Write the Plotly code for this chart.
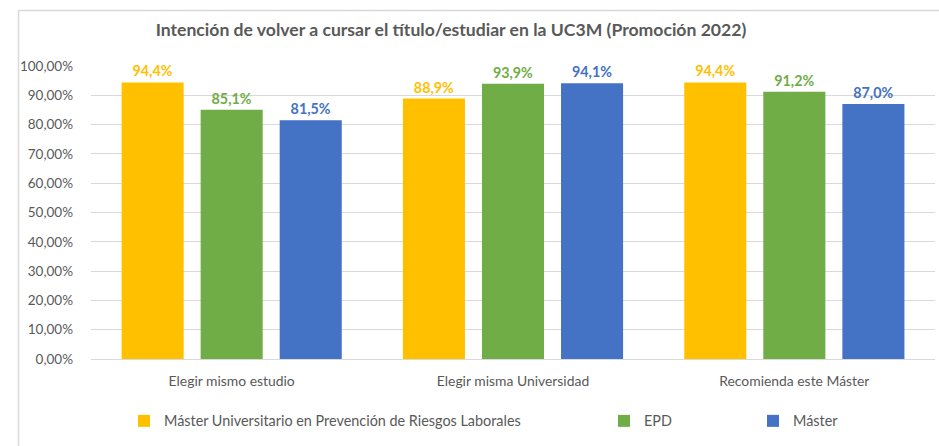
import plotly.graph_objects as go

categories = ["Elegir mismo estudio", "Elegir misma Universidad", "Recomienda este Máster"]
series_names = ["Máster Universitario en Prevención de Riesgos Laborales", "EPD", "Máster"]
vals_mu = [0.944, 0.889, 0.944]
vals_epd = [0.851, 0.939, 0.912]
vals_master = [0.815, 0.941, 0.870]
labels_mu = ["94,4%", "88,9%", "94,4%"]
labels_epd = ["85,1%", "93,9%", "91,2%"]
labels_master = ["81,5%", "94,1%", "87,0%"]
colors = ["#FFC000", "#70AD47", "#4472C4"]
tick_vals = [i / 10 for i in range(11)]
tick_text = [f"{i*10},00%" for i in range(11)]

W, H = 939, 446
ml, mr, mt, mb = 91, 4, 66, 87
pw = W - ml - mr
ph = H - mt - mb

FONT = "Lato, 'Open Sans', sans-serif"
GREY = "#595959"

fig = go.Figure()
legend_ids = ["legend", "legend2", "legend3"]
for name, vals, labs, col, lg in zip(series_names, [vals_mu, vals_epd, vals_master],
                                     [labels_mu, labels_epd, labels_master], colors, legend_ids):
    fig.add_trace(go.Bar(
        x=categories, y=vals, name=name, marker=dict(color=col, line=dict(width=0)),
        text=labs, textposition="outside", cliponaxis=False,
        textfont=dict(color=col, size=14.3, family=FONT, weight="bold"),
        legend=lg, hoverinfo="x+y",
    ))

def px2x(px):
    return (px - ml) / pw

def py2y(py):
    return (H - mb - py) / ph

legend_common = dict(orientation="h", yref="container", y=(H - 421) / H, yanchor="middle",
                     xanchor="left", font=dict(size=14.4, color=GREY, family=FONT),
                     bgcolor="rgba(0,0,0,0)", itemwidth=30)

fig.update_layout(
    width=W, height=H,
    margin=dict(l=ml, r=mr, t=mt, b=mb, autoexpand=False),
    paper_bgcolor="white", plot_bgcolor="white",
    barmode="group", bargap=0.157, bargroupgap=0.215,
    title=dict(text="<b>Intención de volver a cursar el título/estudiar en la UC3M (Promoción 2022)</b>",
               x=451 / W, xanchor="center", yref="container", y=1 - 30 / H, yanchor="middle",
               font=dict(size=17.6, color=GREY, family=FONT)),
    font=dict(family=FONT, color=GREY, size=13),
    xaxis=dict(showgrid=False, showline=True, linecolor="#D9D9D9", linewidth=1,
               tickfont=dict(size=13.9, color=GREY, family=FONT), ticks="",
               ticklabelstandoff=9),
    yaxis=dict(range=[0, 1], tickvals=tick_vals, ticktext=tick_text, showgrid=True,
               gridcolor="#D9D9D9", gridwidth=1, zeroline=False, ticks="",
               ticklabelstandoff=17, tickfont=dict(size=13.5, color=GREY, family=FONT)),
    legend=dict(x=px2x(124), **legend_common),
    legend2=dict(x=px2x(604), **legend_common),
    legend3=dict(x=px2x(753), **legend_common),
    showlegend=True,
    shapes=[dict(type="rect", xref="paper", yref="paper",
                 x0=px2x(18.5), x1=px2x(960), y0=py2y(470), y1=py2y(10.5),
                 line=dict(color="#D9D9D9", width=1.5), fillcolor="rgba(0,0,0,0)", layer="above")],
)

fig.write_html("out.html", config={"displayModeBar": False},
               post_script="document.body.style.margin='0';document.body.style.overflow='hidden';")
